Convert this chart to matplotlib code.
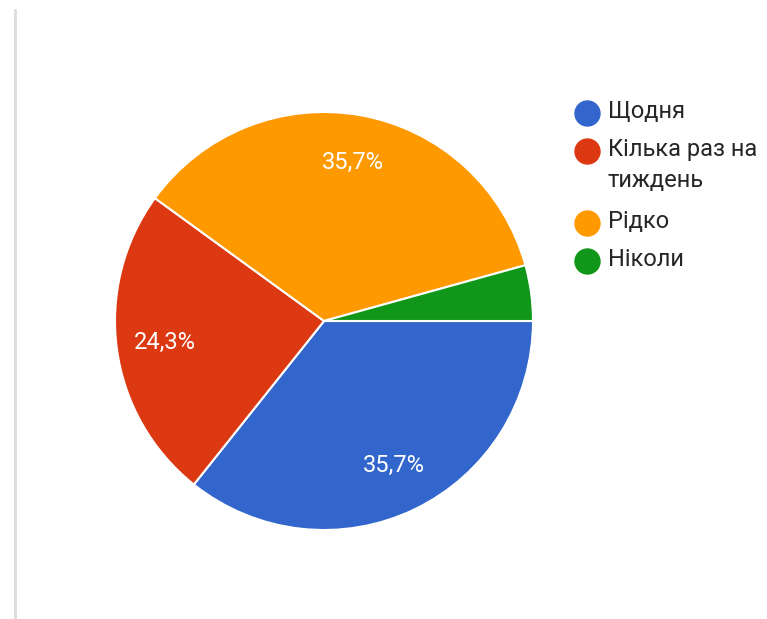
import matplotlib
matplotlib.use("Agg")
import matplotlib.pyplot as plt
from matplotlib.lines import Line2D

plt.rcParams['font.family'] = ['Roboto', 'DejaVu Sans']

# How often respondents do it (shares in percent)
categories = ["Щодня", "Кілька раз на\nтиждень", "Рідко", "Ніколи"]
shares = [35.7, 24.3, 35.7, 4.3]
colors = ["#3366cc", "#dc3912", "#ff9900", "#109618"]


def pct_label(p):
    if p < 5:
        return ""
    return f"{p:.1f}%".replace(".", ",")


W, H = 767, 619
fig = plt.figure(figsize=(W / 100, H / 100), dpi=100)

# pie centred at (324, 321) px with radius 209 px
cx, cy, r = 324, 321, 209
ax = fig.add_axes([(cx - r) / W, (H - cy - r) / H, 2 * r / W, 2 * r / H])
ax.pie(shares, colors=colors, startangle=0, counterclock=False,
       autopct=pct_label, pctdistance=0.77, radius=1,
       wedgeprops=dict(edgecolor="white", linewidth=1.5),
       textprops=dict(color="white", fontsize=17))
ax.set_xlim(-1, 1)
ax.set_ylim(-1, 1)
ax.set_aspect("equal")
ax.axis("off")

# thin grey rule down the left edge
fig.add_artist(Line2D([15 / W, 15 / W], [0, 1 - 10 / H], color="#dcdcdc",
                      linewidth=2, transform=fig.transFigure))

# legend on the right
y = 113
for label, color in zip(categories, colors):
    fig.add_artist(Line2D([587 / W], [1 - y / H], marker="o", markersize=18,
                          color=color, linestyle="none", transform=fig.transFigure))
    fig.text(608 / W, 1 - (y - 13) / H, label, fontsize=17, color="#262626",
             va="top", ha="left", linespacing=1.45)
    y += 38 + 34 * label.count("\n")

fig.savefig("out.png", dpi=100, facecolor="white")
